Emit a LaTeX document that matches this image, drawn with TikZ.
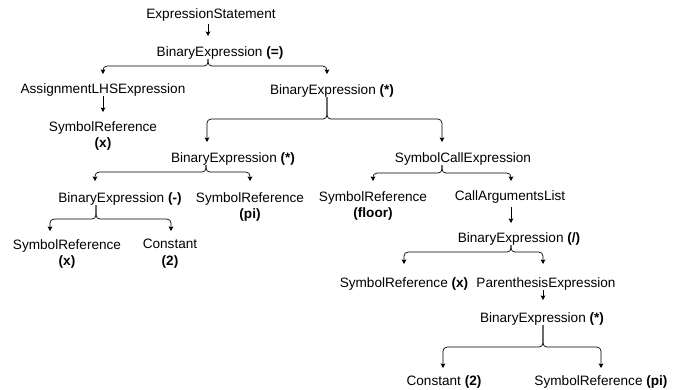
\documentclass[tikz,border=0pt]{standalone}
\usepackage{fontspec}
\setmainfont{Liberation Sans}
\usepackage{tikz}
\usetikzlibrary{arrows.meta}

\begin{document}
\begin{tikzpicture}[
x=1pt, y=-1pt,
astnode/.style={inner sep=0pt, anchor=north, align=center, font=\fontsize{13.6}{16.5}\selectfont},
arrow/.style={-{Stealth[length=4.5pt, width=4.5pt, inset=0.8pt]}, line width=0.7pt},
branch/.style={arrow, rounded corners=4pt}
]
\useasboundingbox (0,0) rectangle (680,389);
\node[astnode] (stmt) at (211,8) {ExpressionStatement};
\node[astnode] (assign) at (220,46) {BinaryExpression \textbf{(=)}};
\node[astnode] (lhs) at (103,83) {AssignmentLHSExpression};
\node[astnode] (symx) at (103,121) {SymbolReference\\\textbf{(x)}};
\node[astnode] (mulouter) at (332,84) {BinaryExpression \textbf{(*)}};
\node[astnode] (mulinner) at (233,152) {BinaryExpression \textbf{(*)}};
\node[astnode] (call) at (463,152) {SymbolCallExpression};
\node[astnode] (minus) at (120,192) {BinaryExpression \textbf{(-)}};
\node[astnode] (sympi) at (250,192) {SymbolReference\\\textbf{(pi)}};
\node[astnode] (minusx) at (67,239) {SymbolReference\\\textbf{(x)}};
\node[astnode] (minustwo) at (170,239) {Constant\\\textbf{(2)}};
\node[astnode] (floor) at (373,191) {SymbolReference\\\textbf{(floor)}};
\node[astnode] (args) at (510,190) {CallArgumentsList};
\node[astnode] (divide) at (519,232) {BinaryExpression \textbf{(/)}};
\node[astnode] (divx) at (404,277) {SymbolReference \textbf{(x)}};
\node[astnode] (paren) at (546,277) {ParenthesisExpression};
\node[astnode] (mulparen) at (542,312) {BinaryExpression \textbf{(*)}};
\node[astnode] (two) at (444,375) {Constant \textbf{(2)}};
\node[astnode] (pi) at (601,375) {SymbolReference \textbf{(pi)}};
\draw[arrow] ([xshift=-3pt, yshift=-3pt]stmt.south) -- ([xshift=-12pt, yshift=10pt]assign.north);
\draw[branch] ([xshift=-12pt]assign.south) -- ++(0,7) -| ([yshift=9pt]lhs.north);
\draw[branch] ([xshift=-12pt]assign.south) -- ++(0,7) -| ([xshift=-5pt, yshift=10pt]mulouter.north);
\draw[arrow] (lhs.south) -- ([yshift=9pt]symx.north);
\draw[branch] ([xshift=-5pt]mulouter.south) -- ++(0,22) -| ([xshift=-26pt, yshift=10pt]mulinner.north);
\draw[branch] ([xshift=-5pt]mulouter.south) -- ++(0,22) -| ([xshift=-21pt, yshift=10pt]call.north);
\draw[branch] ([xshift=-27pt]mulinner.south) -- ++(0,7) -| ([xshift=-25pt, yshift=11pt]minus.north);
\draw[branch] ([xshift=-27pt]mulinner.south) -- ++(0,7) -| ([yshift=11pt]sympi.north);
\draw[branch] ([xshift=-24pt]minus.south) -- ++(0,14) -| ([xshift=-17pt, yshift=8pt]minusx.north);
\draw[branch] ([xshift=-24pt]minus.south) -- ++(0,14) -| ([xshift=1pt, yshift=8pt]minustwo.north);
\draw[branch] ([xshift=-21pt]call.south) -- ++(0,8) -| ([yshift=10pt]floor.north);
\draw[branch] ([xshift=-21pt]call.south) -- ++(0,8) -| ([xshift=1pt, yshift=9pt]args.north);
\draw[arrow] ([xshift=1pt, yshift=-4pt]args.south) -- ([xshift=-8pt, yshift=9pt]divide.north);
\draw[branch] ([xshift=-8pt]divide.south) -- ++(0,7) -| ([yshift=13pt]divx.north);
\draw[branch] ([xshift=-8pt]divide.south) -- ++(0,7) -| ([xshift=-3pt, yshift=13pt]paren.north);
\draw[arrow] ([xshift=-3pt]paren.south) -- ([xshift=1pt, yshift=12pt]mulparen.north);
\draw[branch] ([xshift=1pt]mulparen.south) -- ++(0,22) -| ([xshift=-1pt, yshift=7pt]two.north);
\draw[branch] ([xshift=1pt]mulparen.south) -- ++(0,22) -| ([yshift=7pt]pi.north);
\end{tikzpicture}
\end{document}
